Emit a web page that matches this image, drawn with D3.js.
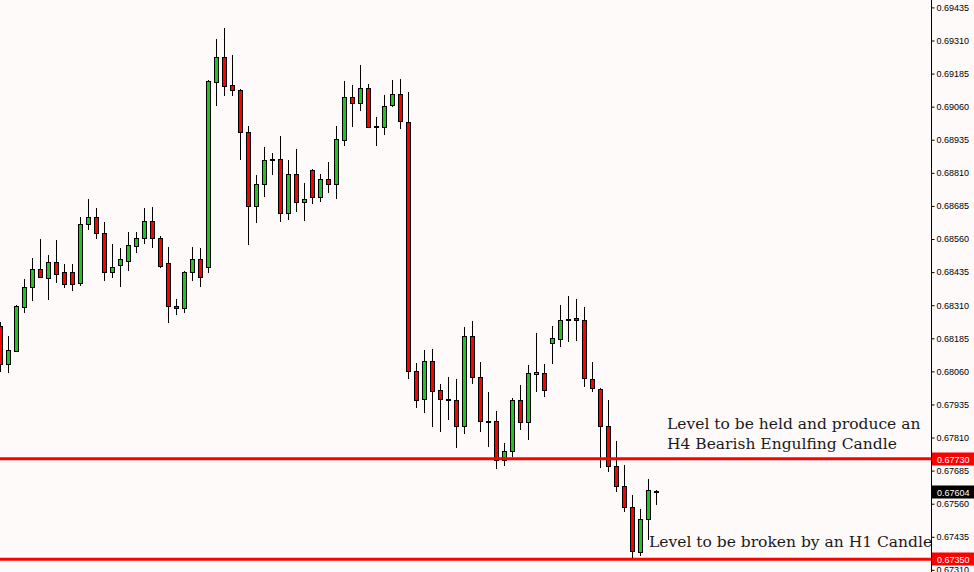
<!DOCTYPE html>
<html>
<head>
<meta charset="utf-8">
<script src="https://d3js.org/d3.v7.min.js"></script>
<style>
  html, body { margin: 0; padding: 0; background: #fffafa; }
  svg { display: block; }
</style>
</head>
<body>
<div id="chart"></div>
<script>

// OHLC, one entry per H4 candle (left to right)
var opens  = [0.68231,0.68088,0.68137,0.68303,0.68379,0.68447,0.68413,0.68473,0.68436,0.68436,
              0.68394,0.68616,0.68643,0.68583,0.68436,0.68462,0.68477,0.68533,0.68564,0.68628,
              0.68564,0.68469,0.68307,0.68299,0.68436,0.68484,0.68454,0.69153,0.69248,0.69142,
              0.69123,0.68964,0.68685,0.68768,0.68859,0.68862,0.68658,0.68806,0.68700,0.68821,
              0.68719,0.68787,0.68768,0.68934,0.69097,0.69074,0.69131,0.68987,0.68983,0.69066,
              0.69108,0.69002,0.68062,0.67956,0.68099,0.67990,0.67956,0.67952,0.67855,0.68194,
              0.68039,0.67874,0.67874,0.67725,0.67760,0.67952,0.67870,0.68050,0.68054,0.68167,
              0.68182,0.68258,0.68261,0.68254,0.68031,0.67993,0.67855,0.67702,0.67627,0.67548,
              0.67378,0.67502,0.67608]
var highs  = [0.68246,0.68194,0.68311,0.68409,0.68488,0.68560,0.68500,0.68556,0.68466,0.68466,
              0.68643,0.68712,0.68677,0.68624,0.68541,0.68526,0.68587,0.68587,0.68677,0.68681,
              0.68571,0.68530,0.68334,0.68439,0.68530,0.68526,0.69161,0.69316,0.69357,0.69255,
              0.69127,0.68987,0.68802,0.68908,0.68885,0.68949,0.68859,0.68900,0.68772,0.68826,
              0.68806,0.68851,0.68987,0.69157,0.69142,0.69217,0.69146,0.69021,0.69104,0.69161,
              0.69165,0.69115,0.68092,0.68141,0.68145,0.68012,0.68039,0.68031,0.68228,0.68250,
              0.68096,0.67982,0.67911,0.67791,0.67960,0.68009,0.68084,0.68205,0.68088,0.68231,
              0.68311,0.68345,0.68334,0.68303,0.68096,0.67996,0.67952,0.67798,0.67706,0.67593,
              0.67540,0.67653,0.67612]
var lows   = [0.68058,0.68054,0.68133,0.68280,0.68326,0.68414,0.68330,0.68394,0.68375,0.68364,
              0.68383,0.68594,0.68560,0.68402,0.68413,0.68379,0.68439,0.68507,0.68541,0.68526,
              0.68450,0.68243,0.68273,0.68280,0.68402,0.68379,0.68432,0.69063,0.69100,0.69100,
              0.68859,0.68537,0.68620,0.68719,0.68802,0.68624,0.68631,0.68662,0.68628,0.68693,
              0.68700,0.68734,0.68712,0.68911,0.68983,0.69044,0.68979,0.68911,0.68953,0.69059,
              0.68976,0.68031,0.67922,0.67903,0.67851,0.67832,0.67877,0.67772,0.67825,0.68012,
              0.67832,0.67776,0.67691,0.67702,0.67738,0.67840,0.67802,0.67982,0.67963,0.68088,
              0.68152,0.68171,0.68175,0.68001,0.67982,0.67694,0.67680,0.67604,0.67529,0.67355,
              0.67363,0.67423,0.67555]
var closes = [0.68088,0.68141,0.68307,0.68379,0.68447,0.68417,0.68473,0.68428,0.68391,0.68391,
              0.68616,0.68643,0.68583,0.68436,0.68454,0.68484,0.68537,0.68564,0.68628,0.68564,
              0.68458,0.68307,0.68299,0.68436,0.68484,0.68417,0.69157,0.69248,0.69138,0.69123,
              0.68964,0.68685,0.68768,0.68859,0.68862,0.68658,0.68806,0.68700,0.68712,0.68719,
              0.68787,0.68768,0.68938,0.69097,0.69074,0.69131,0.68983,0.68987,0.69063,0.69108,
              0.69006,0.68062,0.67952,0.68099,0.67986,0.67956,0.67956,0.67855,0.68194,0.68039,
              0.67874,0.67874,0.67725,0.67760,0.67952,0.67870,0.68054,0.68058,0.67990,0.68186,
              0.68254,0.68258,0.68254,0.68035,0.67997,0.67855,0.67702,0.67627,0.67548,0.67381,
              0.67502,0.67612,0.67604]

// price scale labels
var tickLabels = ["0.69435","0.69310","0.69185","0.69060","0.68935","0.68810","0.68685","0.68560","0.68435",
                  "0.68310","0.68185","0.68060","0.67935","0.67810","0.67685","0.67560","0.67435","0.67310"]

// horizontal levels and their notes
var levels     = [0.67730, 0.67350]
var levelNotes = [["Level to be held and produce an", "H4 Bearish Engulfing Candle"],
                  ["Level to be broken by an H1 Candle"]]
var lastPrice  = 0.67604

var width = 974, height = 572
var plotWidth = 931

var svg = d3.select("#chart").append("svg")
    .attr("width", width)
    .attr("height", height)

svg.append("rect")
    .attr("width", width).attr("height", height)
    .attr("fill", "#fffafa")

svg.append("clipPath").attr("id", "plot")
  .append("rect").attr("width", plotWidth).attr("height", height)

var n = closes.length
var x = d3.scaleLinear().domain([0, n - 1]).range([0.5, 8 * (n - 1) + 0.5])
var y = d3.scaleLinear().domain([0.67302, 0.69463]).range([height, 0])

var candles = d3.range(n).map(function(i) {
    return { i: i, o: opens[i], h: highs[i], l: lows[i], c: closes[i] }
})

var plot = svg.append("g").attr("clip-path", "url(#plot)")

// wicks
plot.selectAll("line.wick")
    .data(candles)
    .enter().append("line")
        .attr("class", "wick")
        .attr("x1", d => x(d.i)).attr("x2", d => x(d.i))
        .attr("y1", d => Math.round(y(d.h)))
        .attr("y2", d => Math.round(y(d.l)))
        .attr("stroke", "#000")
        .attr("stroke-width", 1)

// bodies
plot.selectAll("rect.body")
    .data(candles)
    .enter().append("rect")
        .attr("class", "body")
        .attr("x", d => x(d.i) - 2)
        .attr("y", d => Math.round(y(Math.max(d.o, d.c))) + 0.5)
        .attr("width", 4)
        .attr("height", d => Math.max(1, Math.round(y(Math.min(d.o, d.c))) - Math.round(y(Math.max(d.o, d.c)))))
        .attr("fill", d => d.c > d.o ? "#22c422" : (d.c < d.o ? "#ff0000" : "#000"))
        .attr("stroke", "#000")
        .attr("stroke-width", 1)

// level lines
plot.selectAll("line.level")
    .data(levels)
    .enter().append("line")
        .attr("class", "level")
        .attr("x1", 0).attr("x2", plotWidth)
        .attr("y1", d => y(d)).attr("y2", d => y(d))
        .attr("stroke", "#ff0000")
        .attr("stroke-width", 3)

// notes above each level
var notePos = [{ x: 667, y: 429 }, { x: 649, y: 547 }]
levelNotes.forEach(function(lines, k) {
    lines.forEach(function(t, j) {
        plot.append("text")
            .attr("x", notePos[k].x)
            .attr("y", notePos[k].y + j * 19.5)
            .attr("font-family", "DejaVu Serif")
            .attr("font-size", "15.5px")
            .attr("fill", "#1a1a1a")
            .text(t)
    })
})

// price axis
var axis = d3.axisRight(y)
    .tickValues(tickLabels.map(Number))
    .tickFormat(d3.format(".5f"))
    .tickSize(3)
    .tickPadding(2)

var gAxis = svg.append("g")
    .attr("transform", "translate(" + (plotWidth + 0.5) + ",0)")
    .call(axis)

gAxis.select(".domain").attr("d", "M0,0V" + height).attr("stroke", "#000")
gAxis.selectAll("text")
    .attr("font-family", "Liberation Sans, Arial")
    .attr("font-size", "9px")
    .attr("fill", "#000")

// price tags on the axis
var tags = levels.map(v => ({ v: v, bg: "#ff0000" })).concat([{ v: lastPrice, bg: "#000" }])
var tag = svg.selectAll("g.tag")
    .data(tags)
    .enter().append("g")
        .attr("class", "tag")
        .attr("transform", d => "translate(" + (plotWidth + 1) + "," + Math.round(y(d.v)) + ")")

tag.append("rect")
    .attr("x", 0).attr("y", -6.5)
    .attr("width", width - plotWidth).attr("height", 13)
    .attr("fill", d => d.bg)

tag.append("text")
    .attr("x", 5).attr("y", 3.5)
    .attr("font-family", "Liberation Sans, Arial")
    .attr("font-size", "9px")
    .attr("fill", "#fff")
    .text(d => d3.format(".5f")(d.v))

</script>
</body>
</html>
